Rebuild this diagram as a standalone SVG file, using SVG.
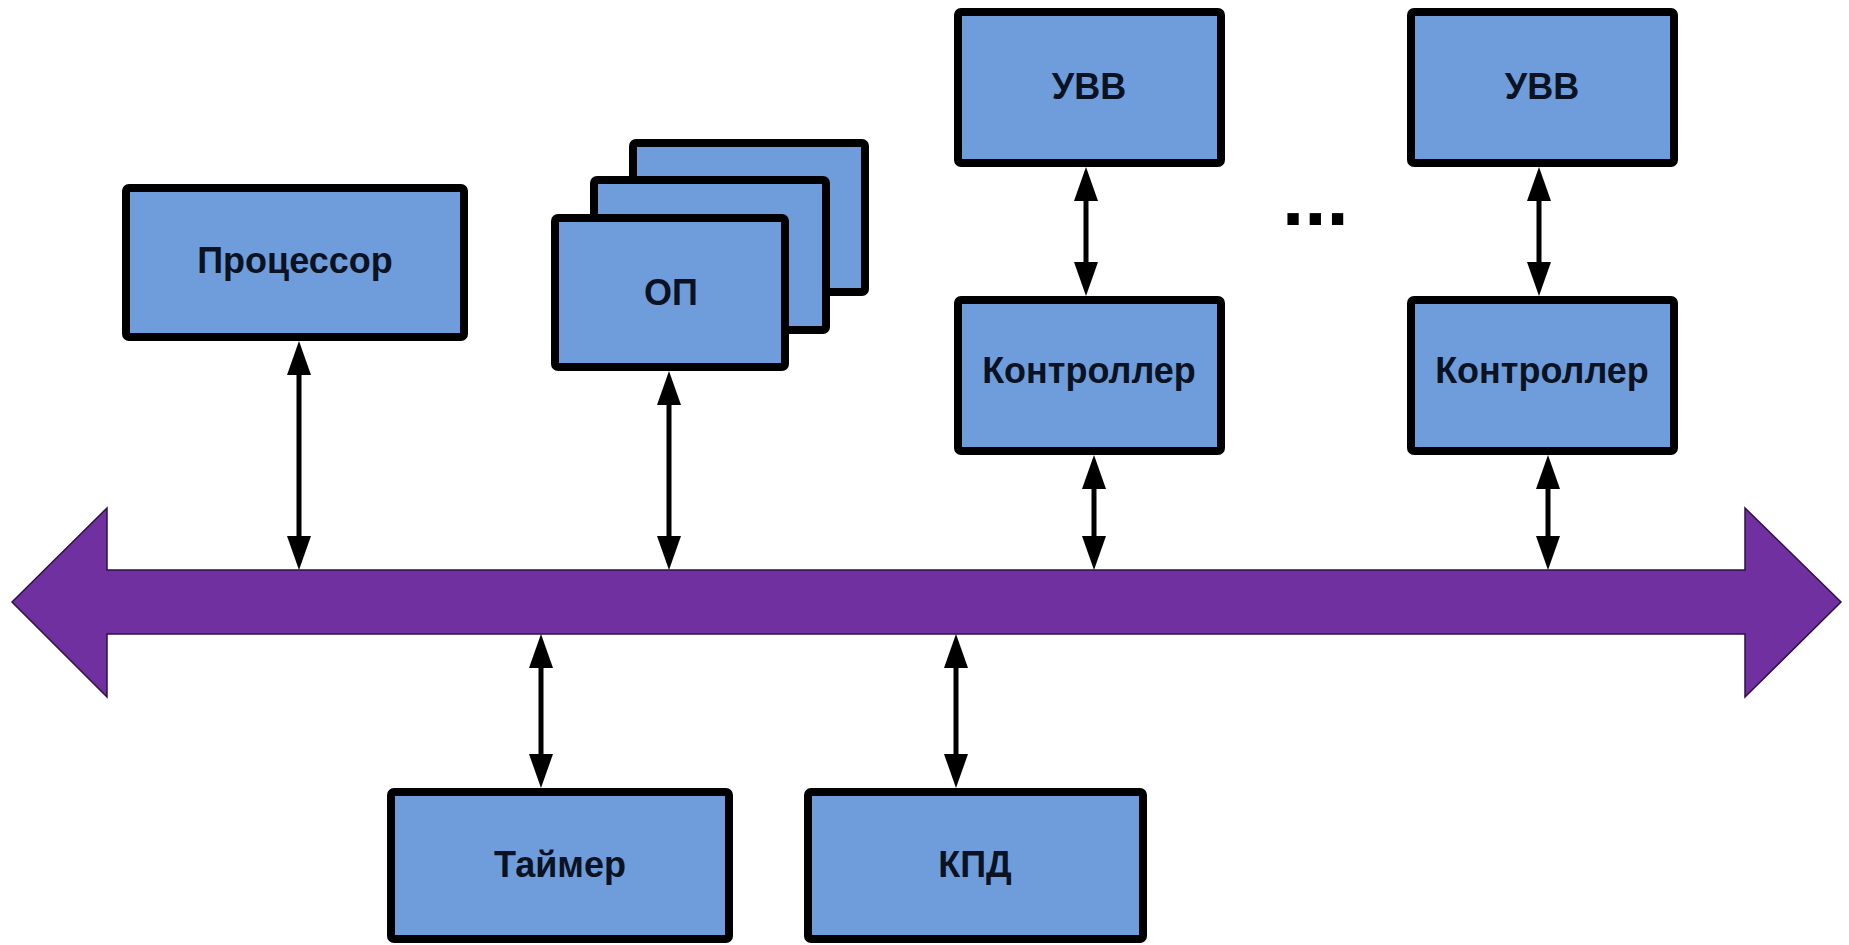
<svg xmlns="http://www.w3.org/2000/svg" width="1849" height="945" viewBox="0 0 1849 945">
  <style>
    .box { fill: #6f9ddc; stroke: #000000; stroke-width: 8; }
    .lbl { font-family: "Liberation Sans", Arial, sans-serif; font-weight: bold; font-size: 36px; fill: #0b1222; text-anchor: middle; }
    .link { stroke: #000000; stroke-width: 5; fill: none; marker-start: url(#head); marker-end: url(#head); }
    .bus { fill: #7030a0; stroke: #2e1045; stroke-width: 1.5; stroke-linejoin: miter; }
  </style>
  <defs>
    <marker id="head" viewBox="0 0 34 24" refX="14" refY="12" markerWidth="34" markerHeight="24" markerUnits="userSpaceOnUse" orient="auto-start-reverse">
      <path d="M0,0 L34,12 L0,24 Z" fill="#000000"/>
    </marker>
  </defs>
  <rect width="1849" height="945" fill="#ffffff"/>

  <!-- system bus -->
  <g id="bus">
    <polygon class="bus" points="12,602 107,508 107,570 1745,570 1745,508 1841,602 1745,697 1745,634 107,634 107,697"/>
  </g>

  <!-- bus connections -->
  <g id="connectors">
    <line class="link" x1="299" y1="361" x2="299" y2="550"/>
    <line class="link" x1="669" y1="391" x2="669" y2="550"/>
    <line class="link" x1="1086" y1="187" x2="1086" y2="276"/>
    <line class="link" x1="1094" y1="475" x2="1094" y2="550"/>
    <line class="link" x1="1539" y1="187" x2="1539" y2="276"/>
    <line class="link" x1="1548" y1="475" x2="1548" y2="550"/>
    <line class="link" x1="541" y1="654" x2="541" y2="768"/>
    <line class="link" x1="956" y1="654" x2="956" y2="768"/>
  </g>

  <g id="cpu">
    <rect class="box" x="126" y="188" width="338" height="149" rx="3"/>
    <text class="lbl" x="295" y="273">Процессор</text>
  </g>

  <g id="memory">
    <rect class="box" x="633" y="143" width="232" height="149" rx="3"/>
    <rect class="box" x="594" y="180" width="232" height="150" rx="3"/>
    <rect class="box" x="555" y="218" width="230" height="149" rx="3"/>
    <text class="lbl" x="671" y="305">ОП</text>
  </g>

  <g id="io1">
    <rect class="box" x="958" y="12" width="263" height="151" rx="3"/>
    <text class="lbl" x="1089" y="99">УВВ</text>
  </g>

  <g id="ctrl1">
    <rect class="box" x="958" y="300" width="263" height="151" rx="3"/>
    <text class="lbl" x="1089" y="383">Контроллер</text>
  </g>

  <g id="io2">
    <rect class="box" x="1411" y="12" width="263" height="151" rx="3"/>
    <text class="lbl" x="1542" y="99">УВВ</text>
  </g>

  <g id="ctrl2">
    <rect class="box" x="1411" y="300" width="263" height="151" rx="3"/>
    <text class="lbl" x="1542" y="383">Контроллер</text>
  </g>

  <g id="more">
    <text x="1282" y="225" font-family="Liberation Sans, Arial, sans-serif" font-weight="bold" font-size="80" fill="#000000">...</text>
  </g>

  <g id="timer">
    <rect class="box" x="391" y="792" width="338" height="147" rx="3"/>
    <text class="lbl" x="560" y="877">Таймер</text>
  </g>

  <g id="dma">
    <rect class="box" x="808" y="792" width="335" height="147" rx="3"/>
    <text class="lbl" x="975" y="877">КПД</text>
  </g>
</svg>
